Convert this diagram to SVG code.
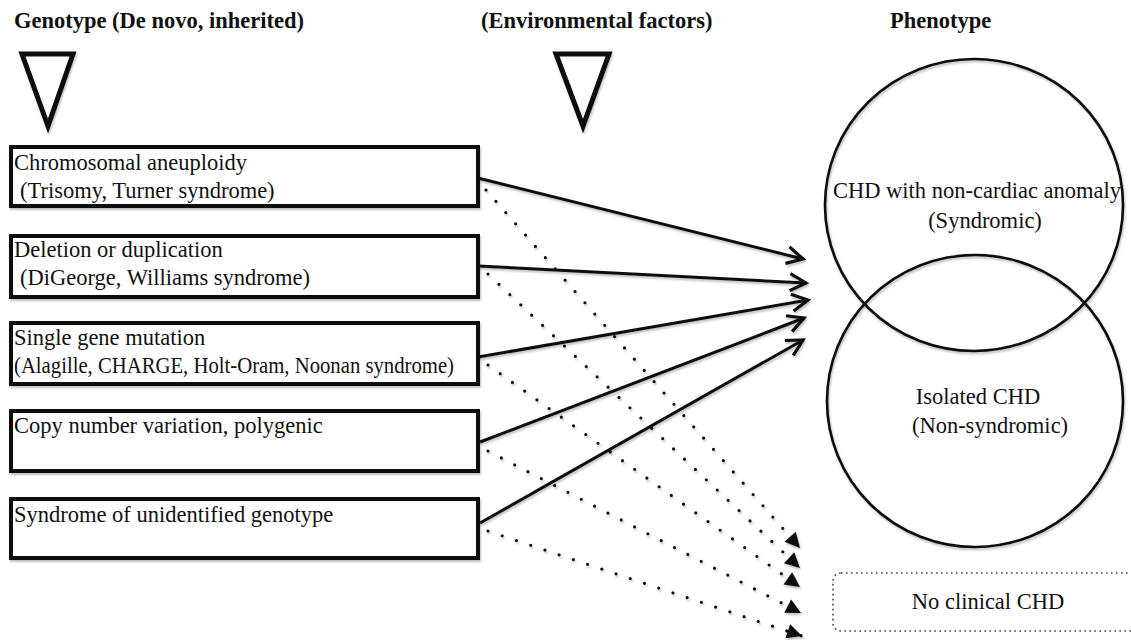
<svg xmlns="http://www.w3.org/2000/svg" width="1131" height="640" viewBox="0 0 1131 640">
<style>
.t{font-family:"Liberation Serif","Times New Roman",serif;font-size:22.5px;fill:#111}
.b{font-weight:bold}
.box{fill:#fff;stroke:#111;stroke-width:4}
.tri{fill:#fff;stroke:#111;stroke-width:5;stroke-linejoin:miter}
.circ{fill:none;stroke:#111;stroke-width:2.6}
.sol{stroke:#111;stroke-width:3;fill:none}
.dot{stroke:#111;stroke-width:3.2;fill:none;stroke-dasharray:0 15;stroke-linecap:round}
</style>
<defs>
<filter id="sh" x="-10%" y="-10%" width="130%" height="130%">
<feDropShadow dx="1" dy="2" stdDeviation="1.2" flood-color="#000" flood-opacity="0.25"/>
</filter>
<marker id="open" markerUnits="userSpaceOnUse" markerWidth="30" markerHeight="30" viewBox="-20 -15 30 30" refX="0" refY="0" orient="auto">
<path d="M-16,-8.5 L0,0 L-16,8.5" fill="none" stroke="#111" stroke-width="3.2" stroke-linejoin="miter"/>
</marker>
<marker id="fill" markerUnits="userSpaceOnUse" markerWidth="30" markerHeight="30" viewBox="-20 -15 30 30" refX="0" refY="0" orient="auto">
<path d="M0,0 L-15,-7.5 L-15,7.5 Z" fill="#111"/>
</marker>
</defs>
<rect width="1131" height="640" fill="#fff"/>

<g id="headers">
<text class="t b" x="14" y="28">Genotype (De novo, inherited)</text>
<text class="t b" x="481" y="28">(Environmental factors)</text>
<text class="t b" x="890" y="28">Phenotype</text>
<polygon class="tri" filter="url(#sh)" points="22,54 73,54 48,126"/>
<polygon class="tri" filter="url(#sh)" points="556,54 609,54 583,126"/>
</g>

<g id="phenotype">
<ellipse class="circ" filter="url(#sh)" cx="974" cy="205" rx="149" ry="146"/>
<ellipse class="circ" filter="url(#sh)" cx="975" cy="401" rx="148" ry="146"/>
<text class="t" x="977" y="198" text-anchor="middle">CHD with non-cardiac anomaly</text>
<text class="t" x="985" y="228" text-anchor="middle">(Syndromic)</text>
<text class="t" x="978" y="404" text-anchor="middle">Isolated CHD</text>
<text class="t" x="990" y="433" text-anchor="middle">(Non-syndromic)</text>
</g>

<g id="no-clinical">
<rect x="833" y="573" width="310" height="58" rx="8" fill="none" stroke="#444" stroke-width="1.6" stroke-dasharray="1.6 3.4"/>
<text class="t" x="988" y="609" text-anchor="middle">No clinical CHD</text>
</g>

<g id="box1">
<rect class="box" filter="url(#sh)" x="11" y="147" width="467" height="59"/>
<text class="t" x="14" y="170">Chromosomal aneuploidy</text>
<text class="t" x="20" y="198">(Trisomy, Turner syndrome)</text>
</g>
<g id="box2">
<rect class="box" filter="url(#sh)" x="11" y="236" width="467" height="61"/>
<text class="t" x="14" y="257">Deletion or duplication</text>
<text class="t" x="20" y="285">(DiGeorge, Williams syndrome)</text>
</g>
<g id="box3">
<rect class="box" filter="url(#sh)" x="11" y="323" width="467" height="61"/>
<text class="t" x="14" y="345">Single gene mutation</text>
<text class="t" x="14" y="373" textLength="440" lengthAdjust="spacingAndGlyphs">(Alagille, CHARGE, Holt-Oram, Noonan syndrome)</text>
</g>
<g id="box4">
<rect class="box" filter="url(#sh)" x="11" y="411" width="467" height="60"/>
<text class="t" x="14" y="433">Copy number variation, polygenic</text>
</g>
<g id="box5">
<rect class="box" filter="url(#sh)" x="11" y="499" width="467" height="59"/>
<text class="t" x="14" y="522">Syndrome of unidentified genotype</text>
</g>

<g id="connectors" filter="url(#sh)">
<line class="sol" x1="478" y1="178" x2="803" y2="259" marker-end="url(#open)"/>
<line class="sol" x1="478" y1="266" x2="806" y2="283" marker-end="url(#open)"/>
<line class="sol" x1="478" y1="357" x2="808" y2="300" marker-end="url(#open)"/>
<line class="sol" x1="480" y1="442" x2="804" y2="318" marker-end="url(#open)"/>
<line class="sol" x1="480" y1="523" x2="803" y2="340" marker-end="url(#open)"/>
<line class="dot" x1="486" y1="190" x2="800" y2="548" marker-end="url(#fill)"/>
<line class="dot" x1="488" y1="274" x2="800" y2="568" marker-end="url(#fill)"/>
<line class="dot" x1="488" y1="365" x2="800" y2="587" marker-end="url(#fill)"/>
<line class="dot" x1="488" y1="451" x2="801" y2="613" marker-end="url(#fill)"/>
<line class="dot" x1="488" y1="531" x2="802" y2="636" marker-end="url(#fill)"/>
</g>
</svg>
